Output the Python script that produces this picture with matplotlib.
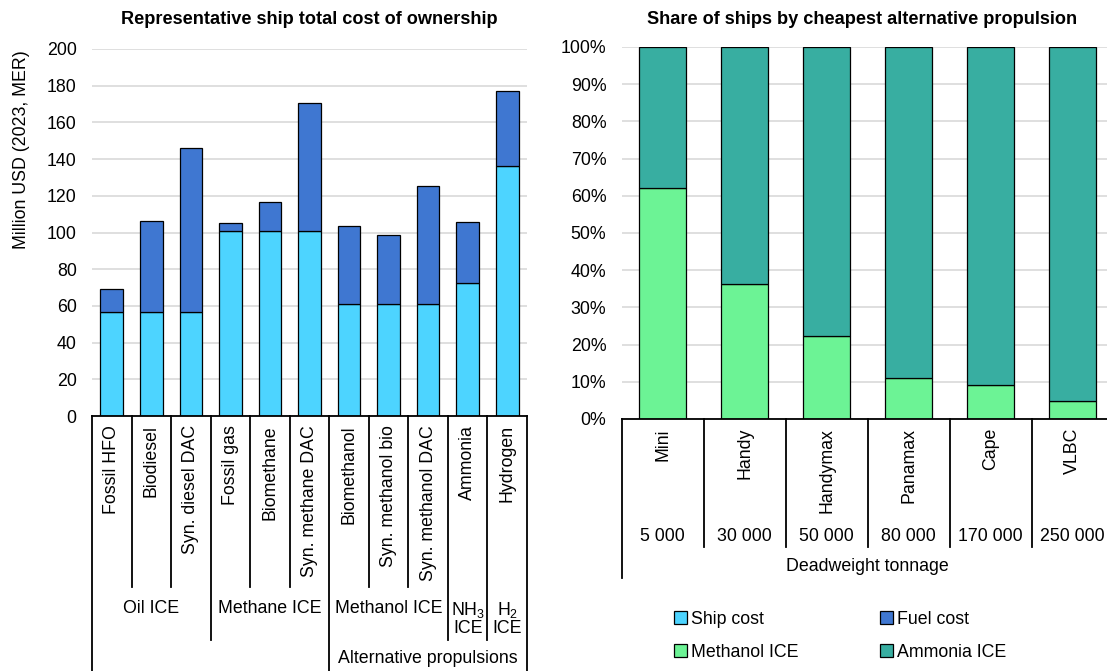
import matplotlib.pyplot as plt
from matplotlib.patches import Patch
from matplotlib.transforms import blended_transform_factory

plt.rcParams['font.family'] = ['Liberation Sans', 'DejaVu Sans']
plt.rcParams['mathtext.default'] = 'regular'
FS = 12.8
TITLE_FS = 13.1

# left chart data
fuels = ['Fossil HFO', 'Biodiesel', 'Syn. diesel DAC', 'Fossil gas', 'Biomethane',
         'Syn. methane DAC', 'Biomethanol', 'Syn. methanol bio', 'Syn. methanol DAC',
         'Ammonia', 'Hydrogen']
ship_cost = [56.5, 56.5, 56.5, 100.6, 100.6, 100.6, 61.0, 61.0, 61.0, 72.3, 136.0]
total_cost = [69.4, 106.4, 146.0, 105.0, 116.6, 170.4, 103.4, 98.5, 125.3, 105.9, 177.3]
fuel_cost = [t - s for t, s in zip(total_cost, ship_cost)]
# (label, first index, last index)
engine_groups = [('Oil ICE', 0, 2), ('Methane ICE', 3, 5), ('Methanol ICE', 6, 8),
                 ('NH$_3$\nICE', 9, 9), ('H$_2$\nICE', 10, 10)]
top_groups = [('', 0, 5), ('Alternative propulsions', 6, 10)]

# right chart data
ship_classes = ['Mini', 'Handy', 'Handymax', 'Panamax', 'Cape', 'VLBC']
tonnage = ['5 000', '30 000', '50 000', '80 000', '170 000', '250 000']
methanol_share = [62.1, 36.2, 22.3, 11.0, 9.0, 4.8]
ammonia_share = [100 - m for m in methanol_share]

c_ship = '#4DD4FF'
c_fuel = '#3F77D1'
c_meth = '#6CF395'
c_amm = '#38AEA1'
grid_c = '#D9D9D9'


def style_axis(ax):
    for s in ['top', 'right', 'left']:
        ax.spines[s].set_visible(False)
    ax.spines['bottom'].set_linewidth(1.3)
    ax.grid(True, axis='y', color=grid_c, lw=1.2)
    ax.set_axisbelow(True)
    ax.tick_params(axis='both', length=0, labelsize=FS)
    ax.tick_params(axis='y', pad=11)
    ax.tick_params(axis='x', pad=6.5)


def vline(ax, x, depth):
    tr = blended_transform_factory(ax.transData, ax.transAxes)
    ax.plot([x, x], [0, depth], transform=tr, clip_on=False, color='black', lw=1.3)


fig = plt.figure(figsize=(11.07, 6.71), dpi=100)

# ---- left: total cost of ownership
ax1 = fig.add_axes([0.0831, 0.380, 0.393, 0.547])
x = range(len(fuels))
ax1.bar(x, ship_cost, width=0.57, color=c_ship, edgecolor='black', lw=0.9, label='Ship cost')
ax1.bar(x, fuel_cost, width=0.57, bottom=ship_cost, color=c_fuel, edgecolor='black',
        lw=0.9, label='Fuel cost')
ax1.set_xlim(-0.5, len(fuels) - 0.5)
ax1.set_ylim(0, 200)
ax1.set_yticks(range(0, 201, 20))
ax1.set_xticks(list(x))
ax1.set_xticklabels(fuels, rotation=90, va='top')
style_axis(ax1)

top_edges = set()
for _, a, b in top_groups:
    top_edges.update([a - 0.5, b + 0.5])
grp_edges = set()
for _, a, b in engine_groups:
    grp_edges.update([a - 0.5, b + 0.5])
for i in range(len(fuels) + 1):
    e = i - 0.5
    if e in top_edges:
        vline(ax1, e, -0.70)
    elif e in grp_edges:
        vline(ax1, e, -0.61)
    else:
        vline(ax1, e, -0.466)

tr1 = blended_transform_factory(ax1.transData, ax1.transAxes)
for lab, a, b in engine_groups:
    ax1.text((a + b) / 2, -0.500, lab, transform=tr1, ha='center', va='top',
             multialignment='center', fontsize=FS, linespacing=1.0)
for lab, a, b in top_groups:
    ax1.text((a + b) / 2, -0.660, lab, transform=tr1, ha='center', va='center', fontsize=FS)

fig.text(22 / 1107, 1 - 50 / 671, 'Million USD (2023, MER)', rotation=90,
         ha='center', va='top', fontsize=FS)
fig.text(309 / 1107, 1 - 20 / 671, 'Representative ship total cost of ownership',
         ha='center', va='center', fontsize=TITLE_FS, fontweight='bold')

# ---- right: share of ships
ax2 = fig.add_axes([0.5616, 0.3756, 0.4444, 0.5544])
x2 = range(len(ship_classes))
ax2.bar(x2, methanol_share, width=0.57, color=c_meth, edgecolor='black', lw=0.9,
        label='Methanol ICE')
ax2.bar(x2, ammonia_share, width=0.57, bottom=methanol_share, color=c_amm,
        edgecolor='black', lw=0.9, label='Ammonia ICE')
ax2.set_xlim(-0.5, len(ship_classes) - 0.5)
ax2.set_ylim(0, 100)
ax2.set_yticks(range(0, 101, 10))
ax2.set_yticklabels([f'{v}%' for v in range(0, 101, 10)])
ax2.set_xticks(list(x2))
ax2.set_xticklabels(ship_classes, rotation=90, va='top')
style_axis(ax2)

for i in range(len(ship_classes) + 1):
    e = i - 0.5
    if i in (0, len(ship_classes)):
        vline(ax2, e, -0.427)
    else:
        vline(ax2, e, -0.343)
tr2 = blended_transform_factory(ax2.transData, ax2.transAxes)
for i, t in enumerate(tonnage):
    ax2.text(i, -0.316, t, transform=tr2, ha='center', va='center', fontsize=FS)
ax2.text(0.5, -0.397, 'Deadweight tonnage', transform=ax2.transAxes, ha='center',
         va='center', fontsize=FS)

fig.text(862 / 1107, 1 - 19 / 671, 'Share of ships by cheapest alternative propulsion',
         ha='center', va='center', fontsize=TITLE_FS, fontweight='bold')

# ---- legend
handles = [Patch(facecolor=c_ship, edgecolor='black', lw=0.9, label='Ship cost'),
           Patch(facecolor=c_meth, edgecolor='black', lw=0.9, label='Methanol ICE'),
           Patch(facecolor=c_fuel, edgecolor='black', lw=0.9, label='Fuel cost'),
           Patch(facecolor=c_amm, edgecolor='black', lw=0.9, label='Ammonia ICE')]
fig.legend(handles=handles, ncol=2, loc='upper left',
           bbox_to_anchor=(674 / 1107, 1 - 611 / 671), frameon=False, fontsize=FS,
           handlelength=0.75, handleheight=0.75, handletextpad=0.2, columnspacing=4.6,
           labelspacing=0.9, borderpad=0, borderaxespad=0)

fig.savefig('out.png', dpi=100)
